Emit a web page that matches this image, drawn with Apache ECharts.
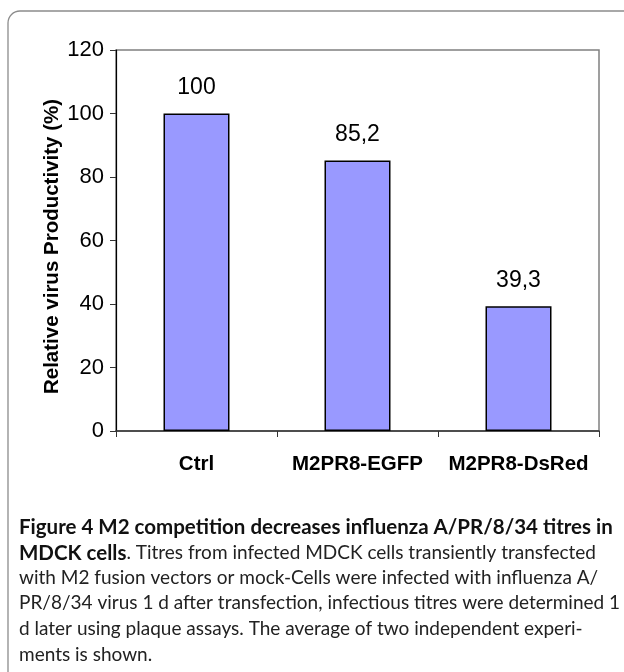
<!DOCTYPE html>
<html>
<head>
<meta charset="utf-8">
<script src="https://cdn.jsdelivr.net/npm/echarts@6/dist/echarts.min.js"></script>
<style>
  html, body { margin: 0; padding: 0; background: #fff; }
  #chart { width: 624px; height: 672px; }
</style>
</head>
<body>
<div id="chart"></div>
<script>
// Data
const categories = ['Ctrl', 'M2PR8-EGFP', 'M2PR8-DsRed']
const productivity = [100, 85.2, 39.3]
const yTicks = { min: 0, max: 120, interval: 20 }

const captionBold = 'Figure 4 M2 competition decreases influenza A/PR/8/34 titres in'
const captionLines = [
  ['MDCK cells', '. Titres from infected MDCK cells transiently transfected'],
  ['', 'with M2 fusion vectors or mock-Cells were infected with influenza A/'],
  ['', 'PR/8/34 virus 1 d after transfection, infectious titres were determined 1'],
  ['', 'd later using plaque assays. The average of two independent experi-'],
  ['', 'ments is shown.']
]

const chart = echarts.init(document.getElementById('chart'))

const capFont = 'Lato'
const capBoldSize = 20.5
const capSize = 19
const capTop = 517
const capStep = 25.6

const captionGraphics = [
  {
    type: 'text',
    left: 19,
    top: capTop,
    style: { text: captionBold, font: `bold ${capBoldSize}px ${capFont}`, fill: '#111' }
  }
].concat(captionLines.map((line, i) => ({
  type: 'text',
  left: 19,
  top: capTop + capStep * (i + 1),
  style: {
    text: (line[0] ? `{b|${line[0]}}` : '') + `{r|${line[1]}}`,
    rich: {
      b: { fontFamily: capFont, fontWeight: 'bold', fontSize: capBoldSize, fill: '#111' },
      r: { fontFamily: capFont, fontSize: capSize, fill: '#222' }
    }
  }
})))

const option = {
  animation: false,
  textStyle: { fontFamily: 'Liberation Sans' },
  graphic: [
    {
      type: 'rect',
      shape: { x: 8, y: 11, width: 700, height: 700, r: 12 },
      style: { fill: 'none', stroke: '#8c8c8c', lineWidth: 1.3 }
    }
  ].concat(captionGraphics),
  grid: {
    left: 116,
    top: 50,
    right: 25,
    bottom: 241,
    show: true,
    borderColor: '#808080',
    borderWidth: 1.5
  },
  xAxis: {
    type: 'category',
    data: categories,
    axisLine: { lineStyle: { color: '#333', width: 1.5 } },
    axisTick: { show: true, length: 6, lineStyle: { color: '#333' } },
    axisLabel: {
      color: '#000',
      fontSize: 20.5,
      fontWeight: 'bold',
      margin: 23,
      interval: 0
    }
  },
  yAxis: {
    type: 'value',
    min: yTicks.min,
    max: yTicks.max,
    interval: yTicks.interval,
    name: 'Relative virus Productivity (%)',
    nameLocation: 'middle',
    nameRotate: 90,
    nameGap: 53,
    nameMoveOverlap: false,
    nameTextStyle: { color: '#000', fontSize: 20.5, fontWeight: 'bold', padding: [0, 12, 0, 0] },
    axisLine: { show: true, lineStyle: { color: '#000', width: 1.2 } },
    axisTick: { show: true, length: 6, lineStyle: { color: '#333' } },
    splitLine: { show: false },
    axisLabel: { color: '#000', fontSize: 22, margin: 12 }
  },
  series: [
    {
      type: 'bar',
      data: productivity,
      barWidth: 66,
      itemStyle: { color: '#9999ff', borderColor: '#000', borderWidth: 1.5 },
      label: {
        show: true,
        position: 'top',
        distance: 14,
        color: '#000',
        fontSize: 23,
        formatter: (p) => String(p.value).replace('.', ',')
      }
    }
  ]
}

chart.setOption(option)
</script>
</body>
</html>
